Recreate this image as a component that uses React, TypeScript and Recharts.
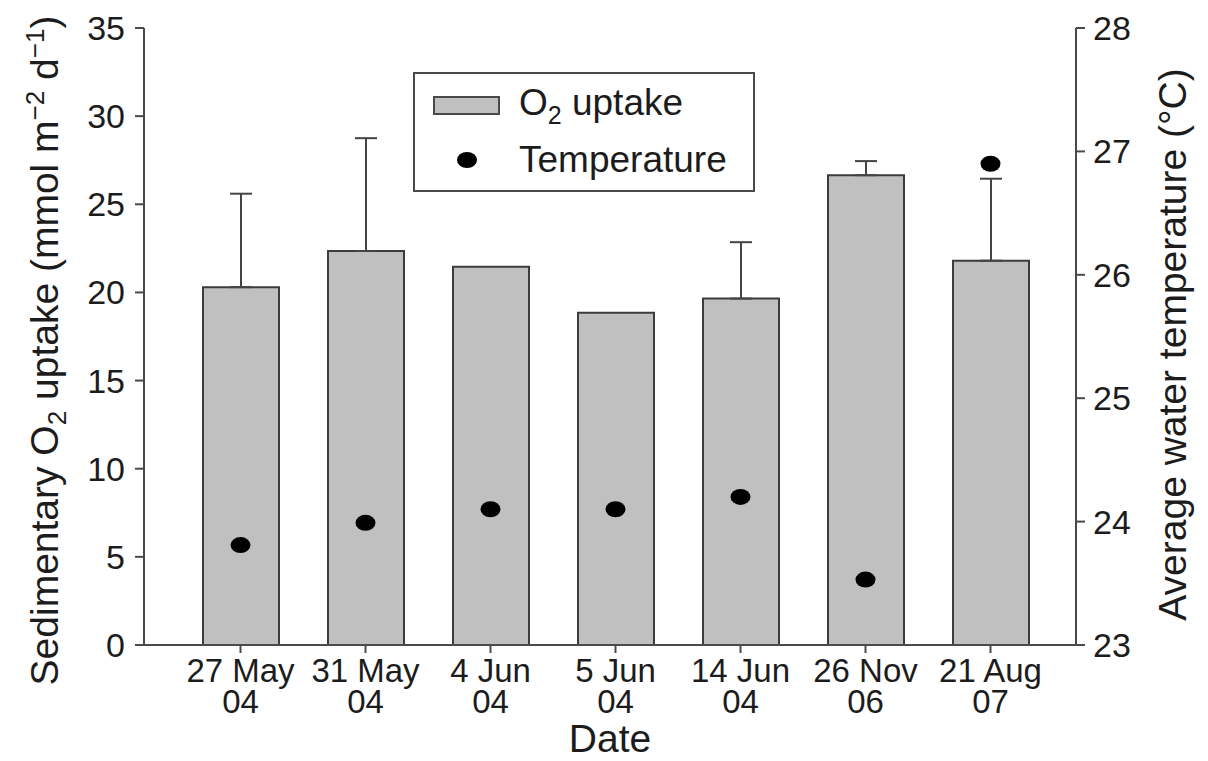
import React from 'react';
import { ComposedChart, Bar, Scatter, XAxis, YAxis, ErrorBar, Legend } from 'recharts';

const dates = ['27 May 04', '31 May 04', '4 Jun 04', '5 Jun 04', '14 Jun 04', '26 Nov 06', '21 Aug 07'];
const uptake = [20.3, 22.35, 21.45, 18.85, 19.65, 26.65, 21.8];
const uptakeErr: (number | null)[] = [5.3, 6.4, null, null, 3.2, 0.8, 4.65];
const temperature = [23.81, 23.99, 24.1, 24.1, 24.2, 23.53, 26.9];
const leftTicks = [0, 5, 10, 15, 20, 25, 30, 35];
const rightTicks = [23, 24, 25, 26, 27, 28];

const data = dates.map((d, i) => ({
  date: d,
  uptake: uptake[i],
  err: uptakeErr[i] == null ? null : [0, uptakeErr[i] as number],
  temp: temperature[i],
}));

const FONT = '"Liberation Sans", Arial, Helvetica, sans-serif';
const TXT = '#1c1c1c';
const AX = '#4a4a4a';

const DateTick = (props: any) => {
  const { x, y, payload } = props;
  const s: string = payload.value;
  const k = s.lastIndexOf(' ');
  const l1 = s.slice(0, k);
  const l2 = s.slice(k + 1);
  return (
    <text x={x} y={y + 27} textAnchor="middle" fontFamily={FONT} fontSize={33} fill={TXT}>
      <tspan x={x}>{l1}</tspan>
      <tspan x={x} dy={31}>{l2}</tspan>
    </text>
  );
};

const DateLabel = (props: any) => {
  const vb = props.viewBox || { x: 144, y: 645, width: 932, height: 116 };
  return (
    <text x={vb.x + vb.width / 2} y={752} textAnchor="middle" fontFamily={FONT} fontSize={39} fill={TXT}>Date</text>
  );
};

const LeftTitle = (props: any) => {
  const vb = props.viewBox || { x: 0, y: 28, width: 144, height: 617 };
  const cy = vb.y + vb.height / 2 + 14;
  const bx = 58;
  return (
    <text x={bx} y={cy} transform={`rotate(-90, ${bx}, ${cy})`} textAnchor="middle" fontFamily={FONT} fontSize={39} fill={TXT}>
      Sedimentary O<tspan fontSize={26} dy={8}>2</tspan>
      <tspan dy={-8}> uptake (mmol m</tspan>
      <tspan fontSize={26} dy={-14}>−2</tspan>
      <tspan dy={14}> d</tspan>
      <tspan fontSize={26} dy={-14}>−1</tspan>
      <tspan dy={14}>)</tspan>
    </text>
  );
};

const RightTitle = (props: any) => {
  const vb = props.viewBox || { x: 1076, y: 28, width: 132, height: 617 };
  const cy = vb.y + vb.height / 2 + 8;
  const bx = 1186;
  return (
    <text x={bx} y={cy} transform={`rotate(-90, ${bx}, ${cy})`} textAnchor="middle" fontFamily={FONT} fontSize={39} fill={TXT}>
      Average water temperature (°C)
    </text>
  );
};

const Dot = (props: any) => {
  const { cx, cy } = props;
  if (cx == null || cy == null) return null;
  return <ellipse cx={cx} cy={cy} rx={10} ry={8} fill="#000" />;
};

const LegendBox = () => (
  <svg width={342} height={120} style={{ display: 'block', overflow: 'visible' }}>
    <rect x={1} y={1} width={340} height={118} fill="#fff" stroke={AX} strokeWidth={2} />
    <rect x={21} y={25} width={65} height={17} fill="#c0c0c0" stroke={AX} strokeWidth={2} />
    <text x={106} y={43} fontFamily={FONT} fontSize={37} fill={TXT}>
      O<tspan fontSize={25} dy={9}>2</tspan>
      <tspan dy={-9}> uptake</tspan>
    </text>
    <ellipse cx={54} cy={88} rx={10} ry={8} fill="#000" />
    <text x={106} y={100} fontFamily={FONT} fontSize={37} fill={TXT}>Temperature</text>
  </svg>
);

export default function App() {
  return (
    <div style={{ position: 'absolute', left: 0, top: 0, background: '#fff' }}>
      <ComposedChart
        width={1208}
        height={761}
        data={data}
        margin={{ top: 28, right: 0, bottom: 0, left: 0 }}
      >
        <XAxis
          dataKey="date"
          height={116}
          padding={{ left: 34, right: 23 }}
          axisLine={{ stroke: AX, strokeWidth: 2 }}
          tickLine={{ stroke: AX, strokeWidth: 2 }}
          tickSize={8}
          tickMargin={2}
          tick={<DateTick />}
          interval={0}
          label={<DateLabel />}
        />
        <YAxis
          yAxisId="left"
          domain={[0, 35]}
          ticks={leftTicks}
          width={144}
          axisLine={{ stroke: AX, strokeWidth: 2 }}
          tickLine={{ stroke: AX, strokeWidth: 2 }}
          tickSize={9}
          tickMargin={10}
          tick={{ fontFamily: FONT, fontSize: 34, fill: TXT }}
          label={<LeftTitle />}
        />
        <YAxis
          yAxisId="right"
          orientation="right"
          domain={[23, 28]}
          ticks={rightTicks}
          width={132}
          axisLine={{ stroke: AX, strokeWidth: 2 }}
          tickLine={{ stroke: AX, strokeWidth: 2 }}
          tickSize={9}
          tickMargin={8}
          tick={{ fontFamily: FONT, fontSize: 34, fill: TXT }}
          label={<RightTitle />}
        />
        <Legend
          layout="vertical"
          align="center"
          verticalAlign="middle"
          content={<LegendBox />}
          wrapperStyle={{ left: 413, top: 72, width: 342, height: 120 }}
        />
        <Bar
          yAxisId="left"
          dataKey="uptake"
          name="O2 uptake"
          fill="#c0c0c0"
          stroke="#3c3c3c"
          strokeWidth={2}
          barSize={76}
          isAnimationActive={false}
        >
          <ErrorBar dataKey="err" direction="y" width={11} stroke="#444" strokeWidth={2} />
        </Bar>
        <Scatter
          yAxisId="right"
          dataKey="temp"
          name="Temperature"
          fill="#000"
          shape={<Dot />}
          isAnimationActive={false}
        />
      </ComposedChart>
    </div>
  );
}
